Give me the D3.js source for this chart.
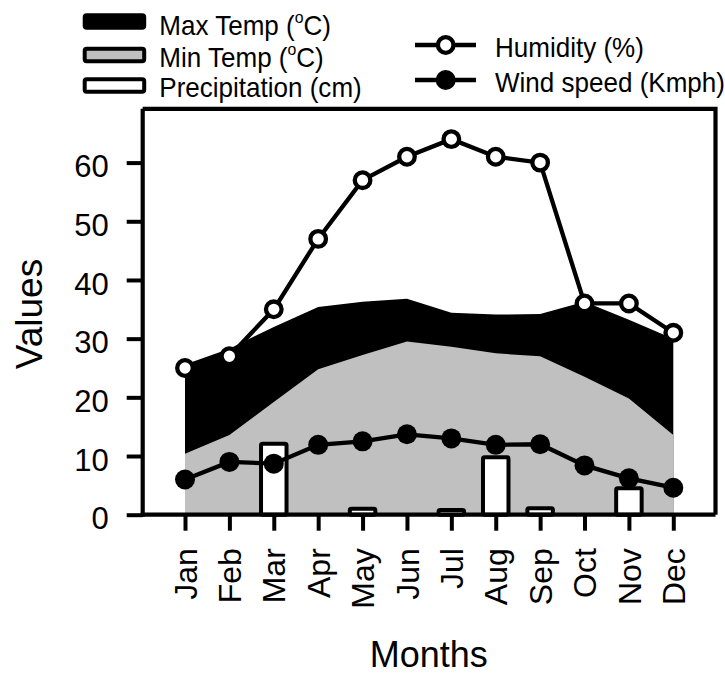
<!DOCTYPE html>
<html><head><meta charset="utf-8">
<script src="https://cdn.jsdelivr.net/npm/d3@7"></script>
<style>
body{margin:0;background:#fff}
svg{display:block}
text{font-family:"Liberation Sans",Arial,Helvetica,sans-serif;fill:#000}
</style>
</head><body>
<svg id="c" width="725" height="675"></svg>
<script>
// ---- data ----
const months = ["Jan","Feb","Mar","Apr","May","Jun","Jul","Aug","Sep","Oct","Nov","Dec"];
const maxTemp = [25.6, 28.3, 32.0, 35.4, 36.3, 36.8, 34.4, 34.1, 34.2, 36.3, 33.2, 30.0];
const minTemp = [10.4, 13.6, 19.2, 24.8, 27.2, 29.5, 28.6, 27.5, 27.0, 23.5, 19.8, 13.6];
const precipitation = [0, 0, 12.1, 0, 1.0, 0, 0.8, 9.8, 1.1, 0, 4.5, 0];
const humidity = [25, 27, 35, 47, 57, 61, 64, 61, 60, 36, 36, 31];
const windSpeed = [6.0, 9.0, 8.7, 11.9, 12.5, 13.7, 13.0, 11.9, 12.0, 8.4, 6.2, 4.6];
const yTicks = [0, 10, 20, 30, 40, 50, 60];
const legendAreas = ["Max Temp", "Min Temp", "Precipitation (cm)"];
const legendLines = ["Humidity (%)", "Wind speed (Kmph)"];

// ---- layout ----
const box = {left: 142.7, right: 715.5, top: 108.8, bottom: 514.7};
const svg = d3.select("#c");
const x = d3.scalePoint().domain(months).range([185, 673.3]);
const y = d3.scaleLinear().domain([0, 60]).range([box.bottom, 162.6]);
const rows = months.map((m, i) => ({m, max: maxTemp[i], min: minTemp[i], p: precipitation[i], h: humidity[i], w: windSpeed[i]}));

// areas
svg.append("path").datum(rows)
  .attr("d", d3.area().x(d => x(d.m)).y0(d => y(0)).y1(d => y(d.max)))
  .attr("fill", "#000");
svg.append("path").datum(rows)
  .attr("d", d3.area().x(d => x(d.m)).y0(d => y(0)).y1(d => y(d.min)))
  .attr("fill", "#c0c0c0");

// bars
const bw = 25.5;
svg.append("g").selectAll("rect").data(rows.filter(d => d.p > 0)).join("rect")
  .attr("x", d => x(d.m) - bw / 2)
  .attr("y", d => y(d.p))
  .attr("width", bw)
  .attr("height", d => y(0) - y(d.p))
  .attr("rx", 1.5)
  .attr("fill", "#fff").attr("stroke", "#000").attr("stroke-width", 4)
  .attr("stroke-linejoin", "round");

// box (top & right)
svg.append("path")
  .attr("d", `M${box.left},${box.top}H${box.right}V${box.bottom}`)
  .attr("fill", "none").attr("stroke", "#000").attr("stroke-width", 4.2);

// y axis
const yAxis = svg.append("g").attr("transform", `translate(${box.left},0)`)
  .call(d3.axisLeft(y).tickValues(yTicks).tickSize(16).tickSizeOuter(0).tickPadding(18));
yAxis.select(".domain").attr("d", `M0,${box.top}V${box.bottom + 2}`).attr("stroke-width", 4.2);
yAxis.selectAll(".tick line").attr("stroke-width", 4);
yAxis.selectAll(".tick text").attr("font-size", 31).attr("dy", "0.46em")
  .style("font-family", '"Liberation Sans",Arial,sans-serif');

// x axis
const xAxis = svg.append("g").attr("transform", `translate(0,${box.bottom})`)
  .call(d3.axisBottom(x).tickSize(16).tickSizeOuter(0));
xAxis.select(".domain").attr("d", `M${box.left - 2},0H${box.right}`).attr("stroke-width", 4.2);
xAxis.selectAll(".tick line").attr("stroke-width", 4);
xAxis.selectAll(".tick text")
  .attr("transform", "rotate(-90)")
  .attr("x", -33.5).attr("y", 0).attr("dy", "0.35em")
  .attr("text-anchor", "end").attr("font-size", 32)
  .style("font-family", '"Liberation Sans",Arial,sans-serif');

// lines
const line = key => d3.line().x(d => x(d.m)).y(d => y(d[key]));
svg.append("path").datum(rows).attr("d", line("h"))
  .attr("fill", "none").attr("stroke", "#000").attr("stroke-width", 4.3);
svg.append("g").selectAll("circle").data(rows).join("circle")
  .attr("cx", d => x(d.m)).attr("cy", d => y(d.h)).attr("r", 7.8)
  .attr("fill", "#fff").attr("stroke", "#000").attr("stroke-width", 4.3);
svg.append("path").datum(rows).attr("d", line("w"))
  .attr("fill", "none").attr("stroke", "#000").attr("stroke-width", 4.3);
svg.append("g").selectAll("circle").data(rows).join("circle")
  .attr("cx", d => x(d.m)).attr("cy", d => y(d.w)).attr("r", 10)
  .attr("fill", "#000");

// axis titles
svg.append("text").attr("transform", "translate(41.5,314) rotate(-90)")
  .attr("text-anchor", "middle").attr("font-size", 37).text("Values");
svg.append("text").attr("x", 428.7).attr("y", 667)
  .attr("text-anchor", "middle").attr("font-size", 36).text("Months");

// legend text helper: slightly condensed text like the reference
const legText = (px, py) => svg.append("text")
  .attr("transform", `translate(${px},${py}) scale(0.93,1)`).attr("font-size", 28);

// legend - areas
const swFill = ["#000", "#c0c0c0", "#fff"];
const swY = [15.3, 48.7, 79.3];
const txtY = [35, 66.7, 96.7];
legendAreas.forEach((name, i) => {
  svg.append("rect").attr("x", 84.7).attr("y", swY[i]).attr("width", 59.5).attr("height", 12.5)
    .attr("rx", 2).attr("fill", swFill[i]).attr("stroke", "#000").attr("stroke-width", 4);
  const t = legText(159.3, txtY[i]);
  if (i < 2) {
    t.append("tspan").text(name + " (");
    t.append("tspan").attr("font-size", 17).attr("dy", -12).text("o");
    t.append("tspan").attr("dy", 12).text("C)");
  } else {
    t.text(name);
  }
});

// legend - lines
const lnY = [45, 80];
const lnTxtY = [56.7, 91.7];
legendLines.forEach((name, i) => {
  svg.append("line").attr("x1", 415).attr("x2", 476).attr("y1", lnY[i]).attr("y2", lnY[i])
    .attr("stroke", "#000").attr("stroke-width", 4.3);
  if (i === 0) {
    svg.append("circle").attr("cx", 445.7).attr("cy", lnY[i]).attr("r", 7.8)
      .attr("fill", "#fff").attr("stroke", "#000").attr("stroke-width", 4.3);
  } else {
    svg.append("circle").attr("cx", 445.7).attr("cy", lnY[i]).attr("r", 10).attr("fill", "#000");
  }
  legText(495, lnTxtY[i]).text(name);
});
</script>
</body></html>
